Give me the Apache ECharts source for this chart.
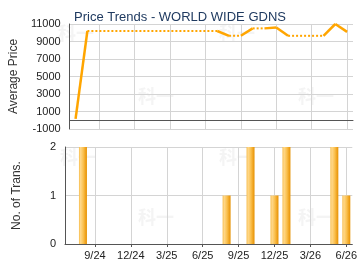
<!DOCTYPE html>
<html>
<head>
<meta charset="utf-8">
<script src="https://cdn.jsdelivr.net/npm/echarts@6/dist/echarts.min.js"></script>
<style>
    html, body { margin: 0; padding: 0; background: #fff; }
    #chart { width: 360px; height: 270px; }
</style>
</head>
<body>
<div id="chart"></div>
<script>
    // 月份（7/24 ~ 6/26）
    var months = ['7/24', '8/24', '9/24', '10/24', '11/24', '12/24', '1/25', '2/25', '3/25', '4/25', '5/25', '6/25',
        '7/25', '8/25', '9/25', '10/25', '11/25', '12/25', '1/26', '2/26', '3/26', '4/26', '5/26', '6/26']

    // 均价：有数据的月份及其数值
    var priceMonths = ['7/24', '8/24', '8/25', '10/25', '12/25', '1/26', '5/26', '6/26']
    var priceValues = [150, 10200, 9650, 10500, 10600, 9650, 11000, 10100]

    // 成交宗数
    var transMonths = ['8/24', '8/25', '10/25', '12/25', '1/26', '5/26', '6/26']
    var transValues = [2, 1, 2, 1, 2, 2, 1]

    var priceTicks = {min: -1000, max: 11000, interval: 2000}
    var transTicks = {min: 0, max: 2, interval: 1}

    var FONT = 'Liberation Sans, Arial, sans-serif'
    var ORANGE = '#FFA500'

    // 只显示 9/24、12/24 ... 这些季度标签
    function quarterly(i) {
        return i % 3 === 2
    }

    // 均价线：连续月份用实线，中间缺月份先用虚线平延，最后一个月再用实线连过去
    function buildPriceSeries() {
        var list = []
        for (var k = 1; k < priceMonths.length; k++) {
            var a = months.indexOf(priceMonths[k - 1]), b = months.indexOf(priceMonths[k])
            var va = priceValues[k - 1], vb = priceValues[k]
            if (b - a > 1) {
                list.push({type: 'dotted', data: [[a, va], [b - 1, va]]})
                list.push({type: 'solid', data: [[b - 1, va], [b, vb]]})
            } else {
                list.push({type: 'solid', data: [[a, va], [b, vb]]})
            }
        }
        return list.map(function (seg) {
            return {
                type: 'line',
                xAxisIndex: 0,
                yAxisIndex: 0,
                data: seg.data,
                symbol: 'none',
                silent: true,
                lineStyle: seg.type === 'dotted'
                    ? {color: ORANGE, width: 2, type: [2, 2], cap: 'butt'}
                    : {color: ORANGE, width: 2.5}
            }
        })
    }

    var transData = months.map(function (m) {
        var idx = transMonths.indexOf(m)
        return idx < 0 ? null : transValues[idx]
    })

    function xAxis(gridIndex, showLabel) {
        return {
            type: 'category',
            gridIndex: gridIndex,
            data: months,
            boundaryGap: true,
            axisLine: {show: true, lineStyle: {color: '#555', width: 1}},
            axisTick: {show: showLabel, alignWithLabel: true, interval: quarterly, length: 3, lineStyle: {color: '#555'}},
            axisLabel: {show: showLabel, interval: quarterly, color: '#222', fontSize: 11, fontFamily: FONT, margin: 6},
            splitLine: {show: true, alignWithLabel: true, interval: quarterly, lineStyle: {color: '#d4d4d4', width: 1}}
        }
    }

    function yAxis(gridIndex, ticks, name) {
        return {
            type: 'value',
            gridIndex: gridIndex,
            min: ticks.min,
            max: ticks.max,
            interval: ticks.interval,
            name: name,
            nameLocation: 'middle',
            nameGap: 42,
            nameTextStyle: {color: '#333', fontSize: 12, fontFamily: FONT},
            axisLine: {show: true, lineStyle: {color: '#555', width: 1}},
            axisTick: {show: false},
            axisLabel: {
                color: '#222', fontSize: 11, fontFamily: FONT, margin: 9,
                formatter: function (v) {
                    return String(v)
                }
            },
            splitLine: {show: true, lineStyle: {color: '#d4d4d4', width: 1}}
        }
    }

    // 背景水印
    var marks = [[76, 33], [237, 33], [156, 96], [316, 96], [78, 157], [237, 157], [156, 217], [316, 217]]

    var chart = echarts.init(document.getElementById('chart'), null, {renderer: 'canvas'})
    chart.setOption({
        animation: false,
        title: {
            text: 'Price Trends - WORLD WIDE GDNS',
            left: 'center',
            top: 6,
            textStyle: {color: '#1f3a60', fontSize: 13, fontWeight: 'normal', fontFamily: FONT}
        },
        graphic: marks.map(function (p) {
            return {
                type: 'text', x: p[0], y: p[1], z: -1, silent: true,
                style: {text: '科一', fill: '#f4f4f4', font: 'bold 18px "Noto Sans CJK SC"', align: 'center', verticalAlign: 'middle'}
            }
        }),
        grid: [
            {left: 65, right: 7, top: 24, height: 105},
            {left: 65, right: 7, top: 147, height: 97}
        ],
        xAxis: [xAxis(0, false), xAxis(1, true)],
        yAxis: [yAxis(0, priceTicks, 'Average Price'), yAxis(1, transTicks, 'No. of Trans.')],
        series: buildPriceSeries().concat([{
            type: 'bar',
            xAxisIndex: 1,
            yAxisIndex: 1,
            data: transData,
            barWidth: 8,
            silent: true,
            itemStyle: {
                color: new echarts.graphic.LinearGradient(0, 0, 1, 0, [
                    {offset: 0, color: '#F7BC4A'},
                    {offset: 0.2, color: '#FFD88A'},
                    {offset: 0.55, color: '#FAC04E'},
                    {offset: 0.85, color: '#EE9F18'},
                    {offset: 1, color: '#E59408'}
                ])
            }
        }])
    })
</script>
</body>
</html>
